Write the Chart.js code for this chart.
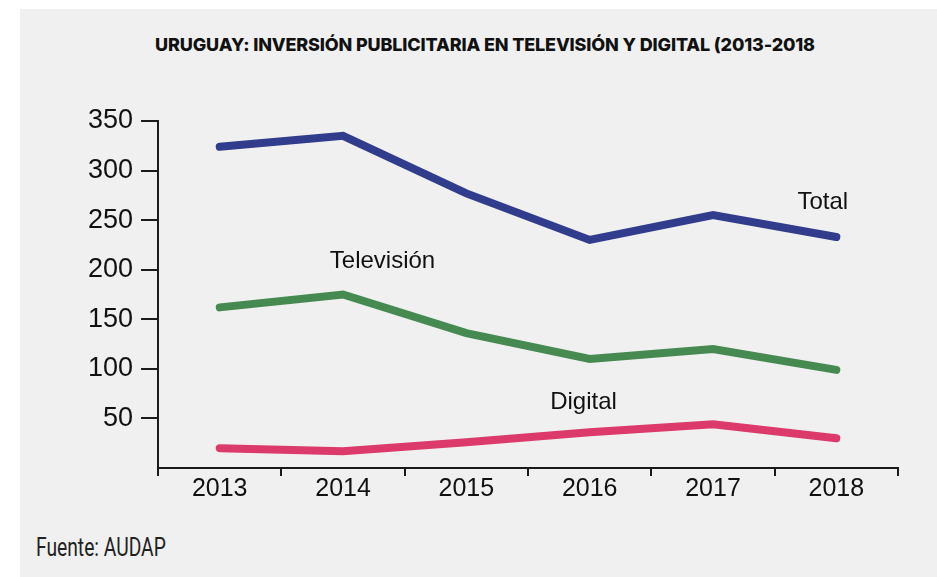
<!DOCTYPE html>
<html lang="es">
<head>
<meta charset="utf-8">
<title>Uruguay: inversión publicitaria en televisión y digital</title>
<script src="https://cdn.jsdelivr.net/npm/chart.js@4.4.0/dist/chart.umd.min.js"></script>
<style>
  html, body { margin: 0; padding: 0; background: #ffffff; }
  #wrap { position: relative; width: 937px; height: 577px; overflow: hidden; }
  #panel { position: absolute; left: 20px; top: 9px; right: 0; bottom: 0; background: #f0f0f0; }
  #title {
    position: absolute; left: 0; width: 970px; top: 34px; text-align: center;
    font-family: Inter, "DejaVu Sans", sans-serif; font-weight: 800; font-size: 18px;
    color: #111; letter-spacing: -0.15px; white-space: nowrap;
  }
  #source {
    position: absolute; left: 36px; top: 532px;
    font-family: Roboto, "Liberation Sans", sans-serif; font-size: 26px; color: #222;
    transform: scaleX(0.74); transform-origin: left top; white-space: nowrap;
  }
  #chart { position: absolute; left: 0; top: 0; }
</style>
</head>
<body>
<div id="wrap">
  <div id="panel"></div>
  <div id="title">URUGUAY: INVERSIÓN PUBLICITARIA EN TELEVISIÓN Y DIGITAL (2013-2018</div>
  <div id="source">Fuente: AUDAP</div>
  <canvas id="chart" width="937" height="577"></canvas>
</div>
<script>
// millones de USD por año
const years = ['2013', '2014', '2015', '2016', '2017', '2018'];
const total = [324, 335, 277, 230, 255, 233];
const television = [162, 175, 136, 110, 120, 99];
const digital = [20, 17, 26, 36, 44, 30];
const yTicks = [50, 100, 150, 200, 250, 300, 350];

const axisColor = '#1a1a1a';

// writes each series name next to its line, placed in data units
const seriesNames = {
  id: 'seriesNames',
  afterDatasetsDraw(chart) {
    const { ctx, scales } = chart;
    ctx.save();
    ctx.font = '24px "Liberation Sans", Arial, sans-serif';
    ctx.fillStyle = '#111';
    ctx.textAlign = 'center';
    ctx.textBaseline = 'middle';
    chart.data.datasets.forEach(ds => {
      const a = ds.nameAt;
      ctx.fillText(ds.label, scales.x.getPixelForValue(a.x), scales.y.getPixelForValue(a.y));
    });
    ctx.restore();
  }
};

const line = (label, data, color, nameAt) => ({
  label, data, nameAt,
  borderColor: color,
  backgroundColor: color,
  borderWidth: 8,
  borderCapStyle: 'round',
  borderJoinStyle: 'miter',
  pointRadius: 0,
  pointHoverRadius: 0,
  tension: 0,
  fill: false
});

new Chart(document.getElementById('chart'), {
  type: 'line',
  data: {
    labels: years,
    datasets: [
      line('Total', total, '#313d8c', { x: 4.89, y: 268 }),
      line('Televisión', television, '#468a52', { x: 1.32, y: 208 }),
      line('Digital', digital, '#db3a6b', { x: 2.95, y: 66 })
    ]
  },
  options: {
    responsive: false,
    animation: false,
    devicePixelRatio: 1,
    layout: { padding: { left: 80, right: 39, top: 121, bottom: 74 } },
    plugins: {
      legend: { display: false },
      tooltip: { enabled: false }
    },
    scales: {
      x: {
        type: 'category',
        offset: true,
        grid: { drawOnChartArea: false, offset: true, tickLength: 8, color: axisColor, lineWidth: 2 },
        border: { color: axisColor, width: 2 },
        ticks: {
          color: '#111', padding: 1, maxRotation: 0,
          font: { family: '"Liberation Sans", Arial, sans-serif', size: 25, lineHeight: 1 }
        }
      },
      y: {
        min: 0,
        max: 350,
        afterBuildTicks: scale => { scale.ticks = [0, ...yTicks].map(v => ({ value: v })); },
        grid: {
          drawOnChartArea: false, tickLength: 17, lineWidth: 2,
          color: ctx => (ctx.tick && ctx.tick.value === 0 ? 'rgba(0,0,0,0)' : axisColor)
        },
        border: { color: axisColor, width: 2 },
        ticks: {
          color: '#111', padding: 8,
          callback: v => (v === 0 ? '' : v),
          font: { family: '"Liberation Sans", Arial, sans-serif', size: 27 }
        }
      }
    }
  },
  plugins: [seriesNames]
});
</script>
</body>
</html>
